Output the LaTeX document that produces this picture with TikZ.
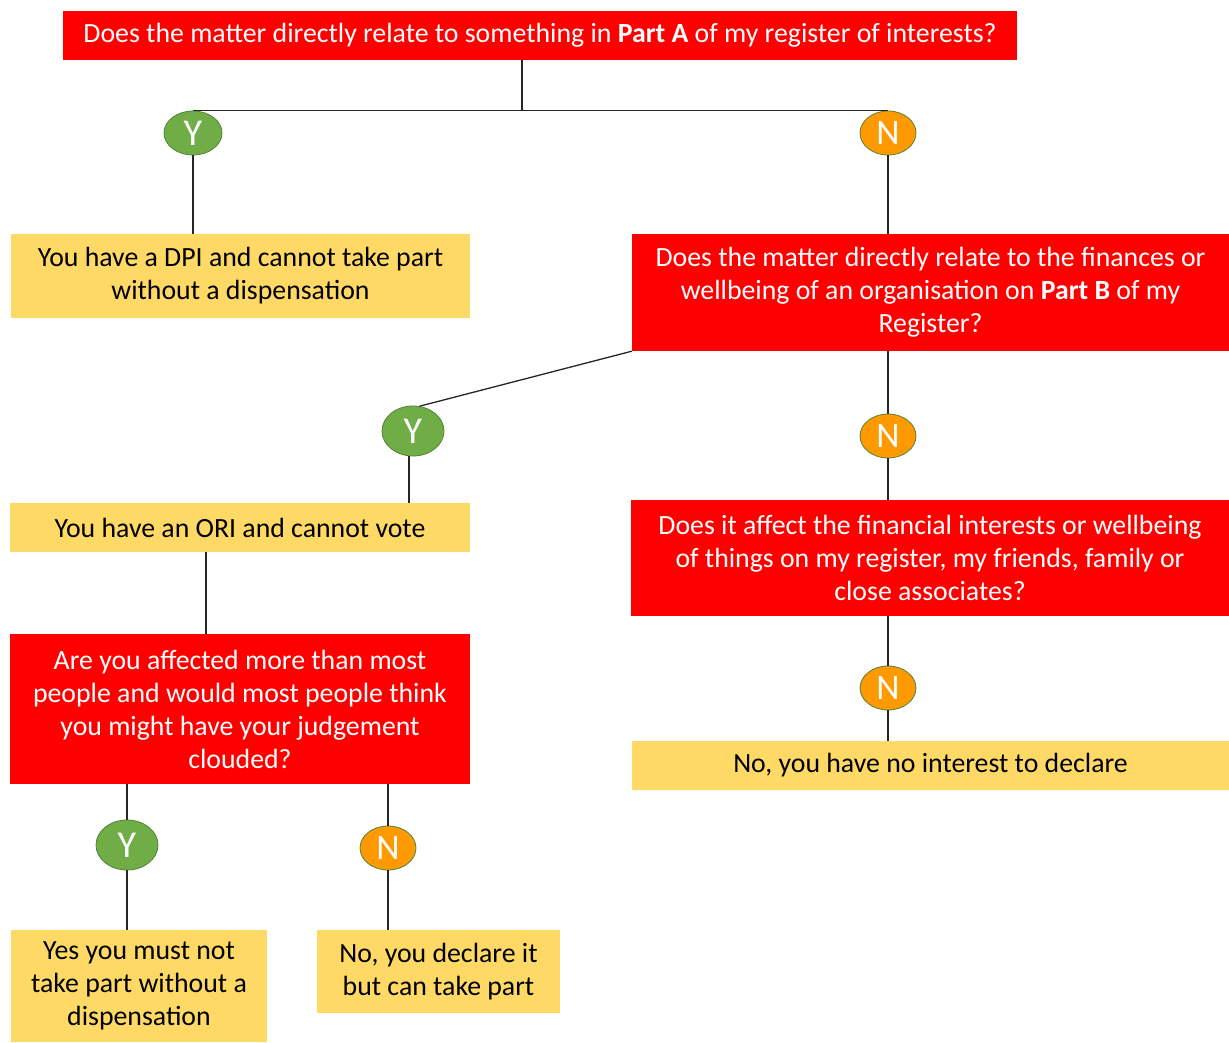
\documentclass[tikz,border=0pt]{standalone}
\usepackage{fontspec}
\setmainfont{Carlito}
\usepackage{tikz}
\usetikzlibrary{shapes,arrows,positioning}

\definecolor{qred}{HTML}{FF0000}
\definecolor{ayellow}{HTML}{FFD966}
\definecolor{ygreen}{HTML}{70AD47}
\definecolor{norange}{HTML}{FF9900}
\definecolor{rimgreen}{HTML}{548235}

\begin{document}
\begin{tikzpicture}[x=1pt, y=-1pt]
			\tikzstyle{Question} = [rectangle, fill=qred, text=white, align=center, inner sep=0pt, font=\fontsize{27.8}{33}\selectfont]
			\tikzstyle{Answer}   = [rectangle, fill=ayellow, text=black, align=center, inner sep=0pt, font=\fontsize{27.8}{33}\selectfont]
			\tikzstyle{Yes}      = [ellipse, fill=ygreen, draw=rimgreen, line width=0.8pt, text=white, inner sep=0pt, font=\fontsize{38}{38}\selectfont]
			\tikzstyle{No}       = [ellipse, fill=norange, draw=rimgreen, line width=0.8pt, text=white, inner sep=0pt, font=\fontsize{36}{36}\selectfont]
			\tikzstyle{Link}     = [line width=1.3pt, black!85]

			\useasboundingbox (0,0) rectangle (1229,1042);

			% questions
			\node (q1) at (540, 35.5) [Question, minimum width=954, minimum height=49] {Does the matter directly relate to something in \textbf{Part A} of my register of interests?};
			\node (q2) at (930.5, 292.5) [Question, minimum width=597, minimum height=117] {Does the matter directly relate to the finances or\\ wellbeing of an organisation on \textbf{Part B} of my\\ Register?};
			\node (q3) at (930, 558) [Question, minimum width=598, minimum height=116] {Does it affect the financial interests or wellbeing\\ of things on my register, my friends, family or\\ close associates?};
			\node (q4) at (240, 709) [Question, minimum width=460, minimum height=150] {Are you affected more than most\\ people and would most people think\\ you might have your judgement\\ clouded?};

			% answers
			\node (dpi) at (240.5, 276) [Answer, minimum width=459, minimum height=84] {You have a DPI and cannot take part\\ without a dispensation};
			\node (ori) at (240, 527.5) [Answer, minimum width=460, minimum height=49] {You have an ORI and cannot vote};
			\node (none) at (930.5, 765.5) [Answer, minimum width=597, minimum height=49] {No, you have no interest to declare};
			\node (mustnot) at (139, 986) [Answer, minimum width=256, minimum height=112] {Yes you must not\\ take part without a\\ dispensation};
			\node (declare) at (438.5, 971.5) [Answer, minimum width=243, minimum height=83] {No, you declare it\\ but can take part};

			% yes / no
			\node (y1) at (193, 133) [Yes, minimum width=58, minimum height=44] {Y};
			\node (n1) at (888, 133) [No, minimum width=56, minimum height=44] {N};
			\node (y2) at (413, 431) [Yes, minimum width=62, minimum height=50] {Y};
			\node (n2) at (888, 436) [No, minimum width=56, minimum height=44] {N};
			\node (n3) at (888, 688) [No, minimum width=56, minimum height=44] {N};
			\node (y3) at (127, 845) [Yes, minimum width=62, minimum height=50] {Y};
			\node (n4) at (388, 848) [No, minimum width=56, minimum height=44] {N};

			\coordinate (split) at (522, 111);

			\draw [-] (q1.south -| split) to (split) [Link];
			\draw [-] (y1.north) to (n1.north) [Link];
			\draw [-] (y1.south) to (y1.south |- dpi.north) [Link];
			\draw [-] (n1.south) to (n1.south |- q2.north) [Link];
			\draw [-] (q2.south west) to (y2.75) [Link];
			\draw [-] (y2.south -| 409,0) to (409, 503) [Link];
			\draw [-] (n2.north) to (n2.north |- q2.south) [Link];
			\draw [-] (n2.south) to (n2.south |- q3.north) [Link];
			\draw [-] (n3.north) to (n3.north |- q3.south) [Link];
			\draw [-] (n3.south) to (n3.south |- none.north) [Link];
			\draw [-] (206, 552) to (206, 634) [Link];
			\draw [-] (y3.north) to (y3.north |- q4.south) [Link];
			\draw [-] (y3.south) to (y3.south |- mustnot.north) [Link];
			\draw [-] (n4.north) to (n4.north |- q4.south) [Link];
			\draw [-] (n4.south) to (n4.south |- declare.north) [Link];
		\end{tikzpicture}
\end{document}
